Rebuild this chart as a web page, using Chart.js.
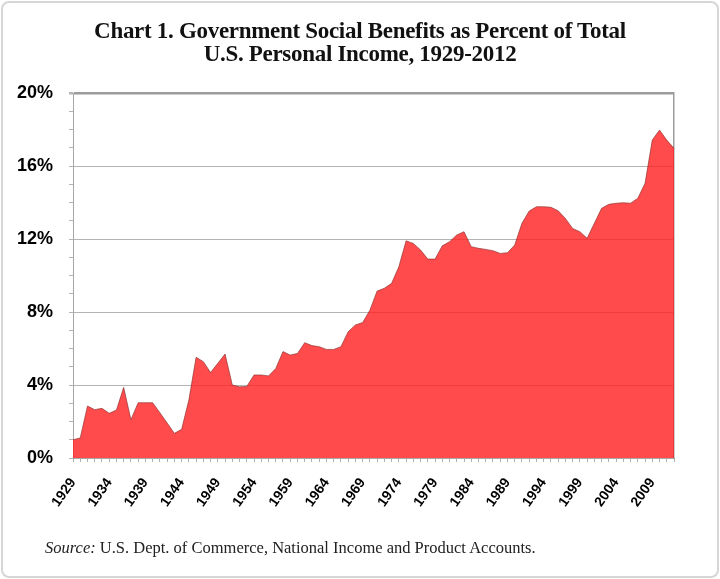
<!DOCTYPE html>
<html>
<head>
<meta charset="utf-8">
<script src="https://cdn.jsdelivr.net/npm/chart.js@4"></script>
<style>
  html, body { margin: 0; padding: 0; background: #fff; }
  #wrap { position: relative; width: 720px; height: 579px; overflow: hidden; }
  #frame {
    position: absolute; left: 1px; top: 1px; width: 714px; height: 573px;
    border: 2px solid #d6d6d6; border-radius: 8px;
  }
  #box { position: absolute; left: 0; top: 0; width: 720px; height: 579px; }
  #title {
    position: absolute; left: 0; top: 19px; width: 720px; text-align: center;
    font: bold 23px "Liberation Serif", serif; line-height: 23px; color: #111;
    letter-spacing: -0.3px;
  }
  #source {
    position: absolute; left: 45px; top: 538px;
    font: 16.5px "Liberation Serif", serif; line-height: 20px; color: #222;
  }
</style>
</head>
<body>
<div id="wrap">
  <div id="frame"></div>
  <div id="box"><canvas id="chart"></canvas></div>
  <div id="title">Chart 1. Government Social Benefits as Percent of Total<br>U.S. Personal Income, 1929-2012</div>
  <div id="source"><i>Source:</i> U.S. Dept. of Commerce, National Income and Product Accounts.</div>
</div>
<script>
// Years 1929..2012
const years = [
  1929, 1930, 1931, 1932, 1933, 1934, 1935, 1936, 1937, 1938,
  1939, 1940, 1941, 1942, 1943, 1944, 1945, 1946, 1947, 1948,
  1949, 1950, 1951, 1952, 1953, 1954, 1955, 1956, 1957, 1958,
  1959, 1960, 1961, 1962, 1963, 1964, 1965, 1966, 1967, 1968,
  1969, 1970, 1971, 1972, 1973, 1974, 1975, 1976, 1977, 1978,
  1979, 1980, 1981, 1982, 1983, 1984, 1985, 1986, 1987, 1988,
  1989, 1990, 1991, 1992, 1993, 1994, 1995, 1996, 1997, 1998,
  1999, 2000, 2001, 2002, 2003, 2004, 2005, 2006, 2007, 2008,
  2009, 2010, 2011, 2012
];

// Social benefits, % of personal income
const benefitsPct = [
  1.0, 1.1, 2.85, 2.65, 2.72, 2.45, 2.63, 3.87, 2.1, 3.03,
  3.03, 3.03, 2.48, 1.92, 1.35, 1.57, 3.18, 5.52, 5.28, 4.68,
  5.19, 5.7, 4.0, 3.9, 3.92, 4.55, 4.55, 4.5, 4.9, 5.83,
  5.64, 5.73, 6.32, 6.16, 6.1, 5.95, 5.95, 6.1, 6.92, 7.29,
  7.42, 8.1, 9.15, 9.3, 9.57, 10.48, 11.9, 11.76, 11.4, 10.9,
  10.9, 11.63, 11.85, 12.22, 12.4, 11.58, 11.49, 11.43, 11.36, 11.21,
  11.25, 11.67, 12.86, 13.53, 13.77, 13.77, 13.74, 13.55, 13.13, 12.58,
  12.4, 12.04, 12.86, 13.68, 13.9, 13.96, 13.99, 13.96, 14.23, 15.05,
  17.42, 17.97, 17.42, 16.97
];

// y tick labels every 4%
const yTickLabels = [0, 4, 8, 12, 16, 20];
const labelEvery = 5;

const ctx = document.getElementById('chart');
new Chart(ctx, {
  type: 'line',
  data: {
    labels: years.map(String),
    datasets: [{
      data: benefitsPct,
      fill: 'origin',
      backgroundColor: 'rgba(255, 30, 30, 0.8)',
      borderColor: 'rgba(130, 40, 40, 0.6)',
      borderWidth: 1,
      pointRadius: 0,
      tension: 0
    }]
  },
  options: {
    responsive: true,
    maintainAspectRatio: false,
    animation: false,
    layout: { padding: { left: 0, top: 93, right: 46, bottom: 0 } },
    plugins: {
      legend: { display: false },
      tooltip: { enabled: false }
    },
    scales: {
      x: {
        grid: {
          drawOnChartArea: false,
          drawTicks: true,
          tickLength: 4,
          tickColor: '#b0b0b0'
        },
        border: { color: '#a8a8a8' },
        ticks: {
          autoSkip: false,
          minRotation: 55,
          maxRotation: 55,
          padding: 13,
          color: '#000',
          font: { family: 'Liberation Sans', size: 14, weight: 'bold' },
          callback: function (val, i) {
            return i % labelEvery === 0 ? this.getLabelForValue(val) : '';
          }
        },
        afterFit: (scale) => { scale.height = 121; }
      },
      y: {
        min: 0,
        max: 20,
        grid: {
          color: (c) => {
            const v = c.tick.value;
            if (v === 20) return '#9c9c9c';
            return yTickLabels.includes(v) ? '#b4b4b4' : 'rgba(0,0,0,0)';
          },
          lineWidth: (c) => (c.tick.value === 20 ? 2.5 : 1),
          tickColor: '#b4b4b4',
          tickLength: 4
        },
        border: { color: '#a8a8a8' },
        ticks: {
          stepSize: 1,
          autoSkip: false,
          padding: 16,
          color: '#000',
          font: { family: 'Liberation Sans', size: 18, weight: 'bold' },
          callback: (v) => (yTickLabels.includes(v) ? v + '%' : '')
        },
        afterFit: (scale) => { scale.width = 73; }
      },
      yRight: {
        position: 'right',
        min: 0,
        max: 20,
        grid: { display: false },
        ticks: { display: false },
        border: { display: true, color: '#9c9c9c', width: 1.5 },
        afterFit: (scale) => { scale.width = 0; }
      }
    }
  }
});
</script>
</body>
</html>
